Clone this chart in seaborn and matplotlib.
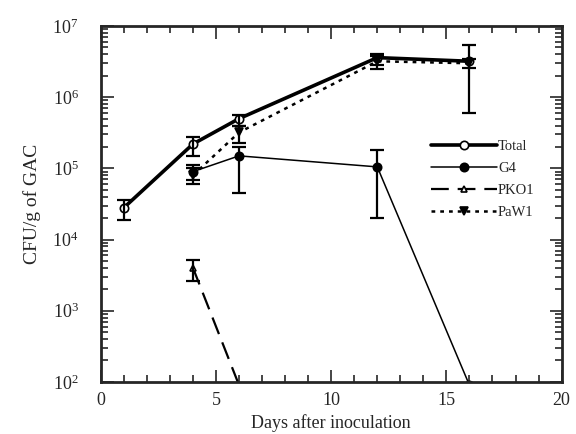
import numpy as np
import matplotlib
matplotlib.use("Agg")
import matplotlib.pyplot as plt
from matplotlib.ticker import LogLocator, MultipleLocator, NullFormatter
import seaborn as sns

# data
total_days = [1, 4, 6, 12, 16]
total_cfu = [2.8e4, 2.2e5, 5.0e5, 3.6e6, 3.2e6]
total_lo = [1.9e4, 1.5e5, 4.0e5, 2.8e6, 6.0e5]
total_hi = [3.6e4, 2.8e5, 5.6e5, 4.0e6, 5.4e6]

g4_days = [4, 6, 12, 16]
g4_cfu = [9.0e4, 1.5e5, 1.05e5, 9.0e1]
g4_lo = [6.8e4, 4.5e4, 2.0e4, 9.0e1]
g4_hi = [1.1e5, 2.0e5, 1.8e5, 9.0e1]

pko1_days = [4, 6]
pko1_cfu = [4.0e3, 9.0e1]
pko1_lo = [2.6e3, 9.0e1]
pko1_hi = [5.2e3, 9.0e1]

paw1_days = [4, 6, 12, 16]
paw1_cfu = [8.0e4, 3.2e5, 3.2e6, 3.0e6]
paw1_lo = [6.0e4, 2.3e5, 2.5e6, 2.6e6]
paw1_hi = [1.0e5, 4.0e5, 3.8e6, 3.4e6]

sns.set_style("ticks")
plt.rcParams["font.family"] = ["Liberation Serif", "DejaVu Serif"]
plt.rcParams["mathtext.fontset"] = "stix"

fig, ax = plt.subplots(figsize=(5.76, 4.34), dpi=100)
fig.subplots_adjust(left=0.175, right=0.975, top=0.94, bottom=0.12)

series = [
    ("Total", total_days, total_cfu, total_lo, total_hi,
     dict(marker="o", markerfacecolor="white", markersize=6, linewidth=2.6, linestyle="-")),
    ("G4", g4_days, g4_cfu, g4_lo, g4_hi,
     dict(marker="o", markerfacecolor="black", markersize=6, linewidth=1.1, linestyle="-")),
    ("PKO1", pko1_days, pko1_cfu, pko1_lo, pko1_hi,
     dict(marker="^", markerfacecolor="white", markersize=5, linewidth=1.6, linestyle=(0, (8, 4)))),
    ("PaW1", paw1_days, paw1_cfu, paw1_lo, paw1_hi,
     dict(marker="v", markerfacecolor="black", markersize=6, linewidth=1.8, linestyle=(0, (1.5, 2)))),
]

for name, d, v, lo, hi, kw in series:
    sns.lineplot(x=d, y=v, ax=ax, color="black", markeredgecolor="black",
                 markeredgewidth=1.2, label=name, **kw)
    v = np.array(v)
    err = np.vstack([v - np.array(lo), np.array(hi) - v])
    ax.errorbar(d, v, yerr=err, fmt="none", ecolor="black", elinewidth=1.6,
                capsize=5, capthick=1.6)

ax.set_yscale("log")
ax.set_xlim(0, 20)
ax.set_ylim(1e2, 1e7)
ax.xaxis.set_major_locator(MultipleLocator(5))
ax.xaxis.set_minor_locator(MultipleLocator(1))
ax.yaxis.set_major_locator(LogLocator(base=10, numticks=10))
ax.yaxis.set_minor_locator(LogLocator(base=10, subs=np.arange(2, 10), numticks=20))
ax.yaxis.set_minor_formatter(NullFormatter())
ax.tick_params(which="both", direction="in", top=True, right=True, width=1.2,
               labelsize=13)
ax.tick_params(axis="x", which="both", pad=7)
ax.tick_params(axis="y", which="both", pad=16)
ax.tick_params(which="major", length=9)
ax.tick_params(which="minor", length=5)
for s in ax.spines.values():
    s.set_linewidth(2)

ax.set_xlabel("Days after inoculation", fontsize=13)
ax.set_ylabel("CFU/g of GAC", fontsize=14, labelpad=8)

ax.legend(loc="center right", bbox_to_anchor=(0.97, 0.57), frameon=False,
          fontsize=10.5, handlelength=4.5, handletextpad=0.1, labelspacing=0.6)

fig.savefig("out.png", dpi=100)
